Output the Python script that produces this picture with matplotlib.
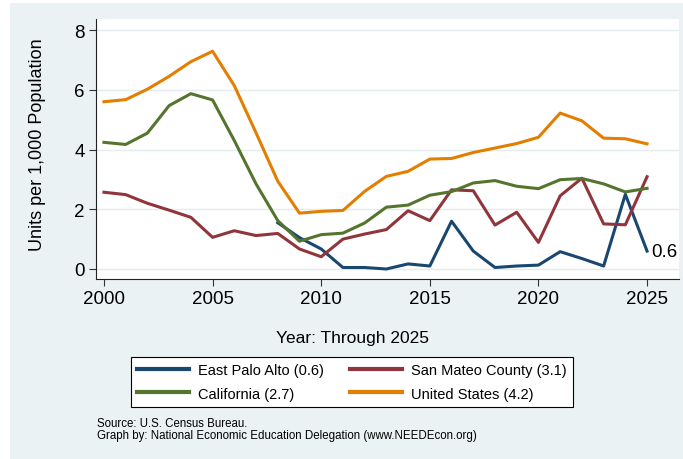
import matplotlib
matplotlib.use("Agg")
import matplotlib.pyplot as plt
from matplotlib.patches import Rectangle

plt.rcParams['font.family'] = ['Liberation Sans', 'DejaVu Sans']

years = list(range(2000, 2026))
epa_years = list(range(2008, 2026))
east_palo_alto = [1.55, 1.05, 0.67, 0.05, 0.05, 0.0, 0.17, 0.1, 1.6, 0.6, 0.05, 0.1,
                  0.13, 0.58, 0.35, 0.1, 2.5, 0.6]
san_mateo = [2.57, 2.49, 2.2, 1.97, 1.73, 1.06, 1.28, 1.12, 1.19, 0.67, 0.41, 1.0, 1.17,
             1.32, 1.95, 1.62, 2.65, 2.62, 1.47, 1.9, 0.89, 2.45, 3.04, 1.51, 1.48, 3.09]
california = [4.24, 4.17, 4.55, 5.47, 5.87, 5.66, 4.3, 2.85, 1.62, 0.93, 1.15, 1.2, 1.54,
              2.07, 2.14, 2.47, 2.59, 2.88, 2.96, 2.77, 2.69, 2.99, 3.03, 2.85, 2.58, 2.7]
united_states = [5.6, 5.67, 6.02, 6.45, 6.94, 7.29, 6.14, 4.56, 2.94, 1.87, 1.93, 1.96, 2.6,
                 3.1, 3.27, 3.68, 3.7, 3.9, 4.05, 4.2, 4.41, 5.22, 4.96, 4.38, 4.36, 4.19]
labels = ["East Palo Alto (0.6)", "San Mateo County (3.1)", "California (2.7)", "United States (4.2)"]
colors = ["#1A476F", "#90353B", "#55752F", "#E37E00"]
xticks = [2000, 2005, 2010, 2015, 2020, 2025]
yticks = [0, 2, 4, 6, 8]

W, H = 683, 460
fig = plt.figure(figsize=(W/100, H/100), dpi=100, facecolor='white')
fig.patches.append(Rectangle((10/W, 0), 1 - 10/W, 1 - 4/H, transform=fig.transFigure,
                             facecolor='#EAF2F3', edgecolor='none', zorder=-5))

ax = fig.add_axes([95.7/W, 1 - 280/H, (679 - 95.7)/W, 260/H])
ax.set_zorder(2)
ax.set_facecolor('white')
lw = 2.2
l_epa, = ax.plot(epa_years, east_palo_alto, color=colors[0], lw=lw, zorder=3)
l_sm, = ax.plot(years, san_mateo, color=colors[1], lw=lw, zorder=3)
l_ca, = ax.plot(years, california, color=colors[2], lw=lw, zorder=3)
l_us, = ax.plot(years, united_states, color=colors[3], lw=lw, zorder=3)

ax.annotate("0.6", xy=(epa_years[-1], east_palo_alto[-1]), xytext=(3, 0),
            textcoords='offset points', ha='left', va='center', fontsize=13.5, color='black',
            annotation_clip=False)

ax.set_xlim(1999.62, 2026.47)
ax.set_ylim(-0.335, 8.37)
ax.set_xticks(xticks)
ax.set_yticks(yticks)
ax.tick_params(axis='both', labelsize=13.5, length=5, width=0.8, color='#333333', pad=3)
ax.grid(axis='y', color='#E3EDEF', lw=1.0, zorder=1)
ax.set_axisbelow(True)
for s in ['top', 'right']:
    ax.spines[s].set_visible(False)
for s in ['left', 'bottom']:
    ax.spines[s].set_color('#222222')
    ax.spines[s].set_linewidth(0.8)

ax.set_ylabel("Units per 1,000 Population", fontsize=13)
ax.yaxis.set_label_coords(-0.085, 0.519)

fig.text(352/W, 1 - 339/H, "Year: Through 2025", ha='center', va='center', fontsize=12.5)

leg = fig.legend([l_epa, l_ca, l_sm, l_us], [labels[0], labels[2], labels[1], labels[3]],
                 ncol=2, loc='center',
                 bbox_to_anchor=(352/W, 1 - 383/H), fontsize=10.5, frameon=True,
                 fancybox=False, edgecolor='black', facecolor='white', framealpha=1,
                 handlelength=3.56, columnspacing=1.78, handletextpad=0.62,
                 labelspacing=0.62, borderpad=0.45)
leg.get_frame().set_linewidth(0.8)
for h in leg.get_lines():
    h.set_linewidth(3)

fig.text(97/W, 1 - 424/H, "Source: U.S. Census Bureau.", ha='left', va='center', fontsize=8.3)
fig.text(97/W, 1 - 436/H, "Graph by: National Economic Education Delegation (www.NEEDEcon.org)",
         ha='left', va='center', fontsize=8.3)

fig.savefig("out.png", dpi=100, facecolor=fig.get_facecolor())
